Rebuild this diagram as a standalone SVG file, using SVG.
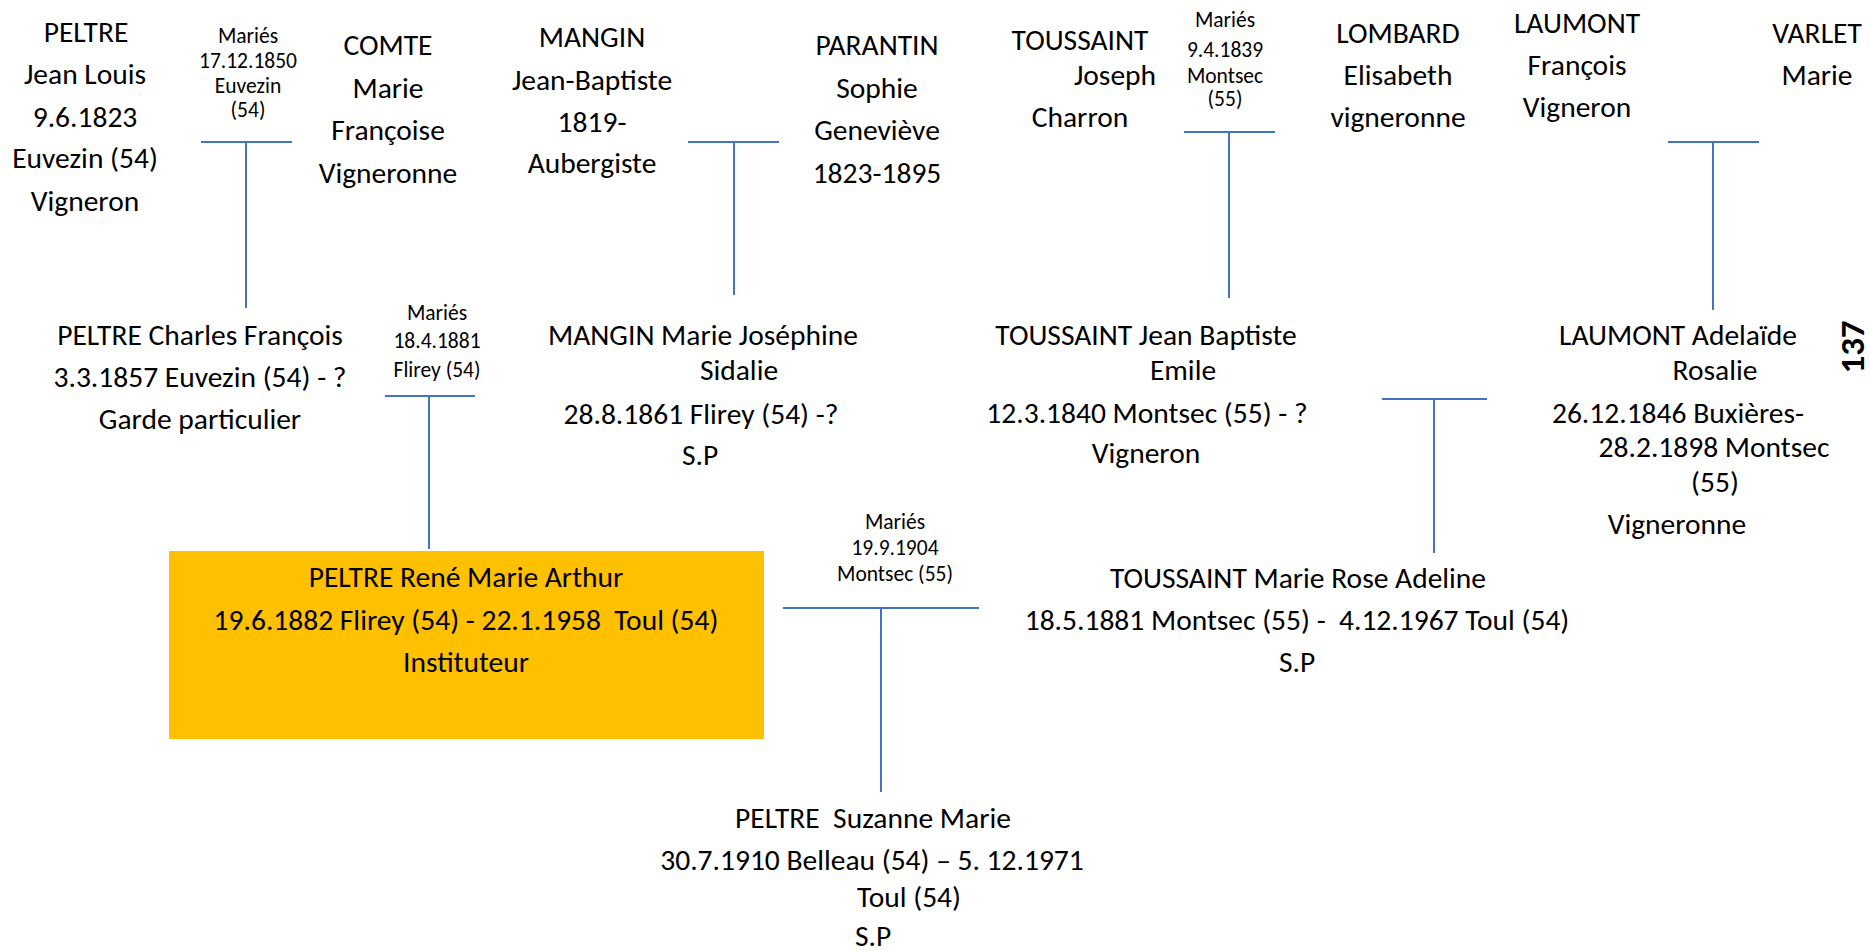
<svg xmlns="http://www.w3.org/2000/svg" width="1870" height="951" viewBox="0 0 1870 951">
<style>
text{font-family:Carlito,Lato,"Noto Sans",sans-serif;fill:#000;text-anchor:middle;white-space:pre}
.b{font-size:29.5px}
.s{font-size:21.5px}
.num{font-size:35px;font-weight:bold}
.ln{stroke:#4472C4;stroke-width:2;fill:none}
</style>
<rect width="1870" height="951" fill="#fff"/>
<g id="connectors">
<path class="ln" d="M201 142H292M246 142V308"/>
<path class="ln" d="M688 142H779M734 142V295"/>
<path class="ln" d="M1184 132H1275M1229 132V298"/>
<path class="ln" d="M1668 142H1759M1713 142V310"/>
<path class="ln" d="M385 396H475M429 396V549"/>
<path class="ln" d="M1382 399H1487M1434 399V553"/>
<path class="ln" d="M783 608H979M881 608V792"/>
</g>
<g id="peltre-jean-louis" class="b">
<text x="86" y="42">PELTRE</text>
<text x="85" y="84">Jean Louis</text>
<text x="85" y="127">9.6.1823</text>
<text x="85" y="168">Euvezin (54)</text>
<text x="85" y="211">Vigneron</text>
</g>
<g id="maries-1850" class="s">
<text x="248" y="43">Mariés</text>
<text x="248" y="68">17.12.1850</text>
<text x="248" y="93">Euvezin</text>
<text x="248" y="117">(54)</text>
</g>
<g id="comte-marie" class="b">
<text x="388" y="55">COMTE</text>
<text x="388" y="98">Marie</text>
<text x="388" y="140">Françoise</text>
<text x="388" y="183">Vigneronne</text>
</g>
<g id="mangin-jean-baptiste" class="b">
<text x="592" y="47">MANGIN</text>
<text x="592" y="90">Jean-Baptiste</text>
<text x="592" y="132">1819-</text>
<text x="592" y="173">Aubergiste</text>
</g>
<g id="parantin-sophie" class="b">
<text x="877" y="55">PARANTIN</text>
<text x="877" y="98">Sophie</text>
<text x="877" y="140">Geneviève</text>
<text x="877" y="183">1823-1895</text>
</g>
<g id="toussaint-joseph" class="b">
<text x="1080" y="50">TOUSSAINT</text>
<text x="1115" y="85">Joseph</text>
<text x="1080" y="127">Charron</text>
</g>
<g id="maries-1839" class="s">
<text x="1225" y="27">Mariés</text>
<text x="1225" y="57">9.4.1839</text>
<text x="1225" y="83">Montsec</text>
<text x="1225" y="106">(55)</text>
</g>
<g id="lombard-elisabeth" class="b">
<text x="1398" y="43">LOMBARD</text>
<text x="1398" y="85">Elisabeth</text>
<text x="1398" y="127">vigneronne</text>
</g>
<g id="laumont-francois" class="b">
<text x="1577" y="33">LAUMONT</text>
<text x="1577" y="75">François</text>
<text x="1577" y="117">Vigneron</text>
</g>
<g id="varlet-marie" class="b">
<text x="1817" y="43">VARLET</text>
<text x="1817" y="85">Marie</text>
</g>
<g id="peltre-charles-francois" class="b">
<text x="200" y="345">PELTRE Charles François</text>
<text x="200" y="387">3.3.1857 Euvezin (54) - ?</text>
<text x="200" y="429">Garde particulier</text>
</g>
<g id="maries-1881" class="s">
<text x="437" y="320">Mariés</text>
<text x="437" y="348">18.4.1881</text>
<text x="437" y="377">Flirey (54)</text>
</g>
<g id="mangin-marie-josephine" class="b">
<text x="703" y="345">MANGIN Marie Joséphine</text>
<text x="739" y="380">Sidalie</text>
<text x="701" y="424">28.8.1861 Flirey (54) -?</text>
<text x="700" y="465">S.P</text>
</g>
<g id="toussaint-jean-baptiste" class="b">
<text x="1146" y="345">TOUSSAINT Jean Baptiste</text>
<text x="1183" y="380">Emile</text>
<text x="1147" y="423">12.3.1840 Montsec (55) - ?</text>
<text x="1146" y="463">Vigneron</text>
</g>
<g id="laumont-adelaide" class="b">
<text x="1678" y="345">LAUMONT Adelaïde</text>
<text x="1715" y="380">Rosalie</text>
<text x="1678" y="423">26.12.1846 Buxières-</text>
<text x="1714" y="457">28.2.1898 Montsec</text>
<text x="1715" y="492">(55)</text>
<text x="1677" y="534">Vigneronne</text>
</g>
<g id="page-number">
<text class="num" transform="translate(1864 347) rotate(-90)">137</text>
</g>
<g id="peltre-rene" class="b">
<rect x="169" y="551" width="595" height="188" fill="#FFC000"/>
<text x="466" y="587">PELTRE René Marie Arthur</text>
<text x="466" y="630">19.6.1882 Flirey (54) - 22.1.1958  Toul (54)</text>
<text x="466" y="672">Instituteur</text>
</g>
<g id="maries-1904" class="s">
<text x="895" y="529">Mariés</text>
<text x="895" y="555">19.9.1904</text>
<text x="895" y="581">Montsec (55)</text>
</g>
<g id="toussaint-marie-rose" class="b">
<text x="1298" y="588">TOUSSAINT Marie Rose Adeline</text>
<text x="1297" y="630">18.5.1881 Montsec (55) -  4.12.1967 Toul (54)</text>
<text x="1297" y="672">S.P</text>
</g>
<g id="peltre-suzanne" class="b">
<text x="873" y="828">PELTRE  Suzanne Marie</text>
<text x="872" y="870">30.7.1910 Belleau (54) – 5. 12.1971</text>
<text x="909" y="907">Toul (54)</text>
<text x="873" y="946">S.P</text>
</g>
</svg>
